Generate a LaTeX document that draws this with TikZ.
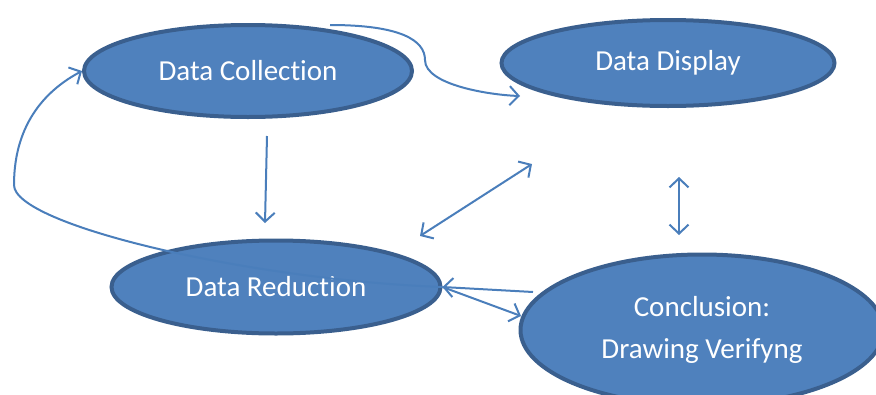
\documentclass[tikz,border=0pt]{standalone}
\usepackage{fontspec}
\setmainfont{Carlito}[Ligatures={NoCommon}]
\usetikzlibrary{shapes.geometric,arrows.meta}
\definecolor{ovalfill}{HTML}{4F81BD}
\definecolor{ovalline}{HTML}{3A5F8E}
\definecolor{arrline}{HTML}{4A7EBB}
\begin{document}
\begin{tikzpicture}[x=1pt,y=-1pt,
    oval/.style={ellipse, draw=ovalline, fill=ovalfill, line width=4pt, inner sep=0pt,
      text=white, font=\fontsize{29}{42}\selectfont, align=center},
    arr/.style={draw=arrline, line width=2pt, -{Straight Barb[length=9pt,width=19pt]}},
    dbl/.style={arr, {Straight Barb[length=9pt,width=19pt]}-{Straight Barb[length=9pt,width=19pt]}}]
      \useasboundingbox (0,0) rectangle (876,394);
      \node [oval, minimum width=328, minimum height=92] (coll) at (248,71) {Data Collection};
      \node [oval, minimum width=333, minimum height=86] (disp) at (668,63) {Data Display};
      \node [oval, minimum width=329, minimum height=93] (red) at (276,287) {Data Reduction};
      \node [oval, minimum width=363, minimum height=151] (concl) at (702,330) {Conclusion:\\Drawing Verifyng};
      \coordinate (c1) at (330,25);
      \coordinate (c2) at (520,96);
      \coordinate (c3) at (267,136);
      \coordinate (c4) at (265,223);
      \coordinate (c5) at (420,236);
      \coordinate (c6) at (532,164);
      \coordinate (c7) at (679,177);
      \coordinate (c8) at (679,235);
      \coordinate (c9) at (533,292);
      \coordinate (c10) at (521,316);
      \draw [arr] (c1) .. controls (400,25) and (425,40) .. (425,60) .. controls (425,85) and (490,95) .. (c2);
      \draw [arr] (c3) -- (c4);
      \draw [dbl] (c5) -- (c6);
      \draw [dbl] (c7) -- (c8);
      \draw [arr] (c9) -- (red.east);
      \draw [arr] (red.east) -- (c10);
      \draw [arr] (red.east) .. controls (250,280) and (14,225) .. (14,185) .. controls (14,120) and (50,88) .. (coll.west);
\end{tikzpicture}
\end{document}
